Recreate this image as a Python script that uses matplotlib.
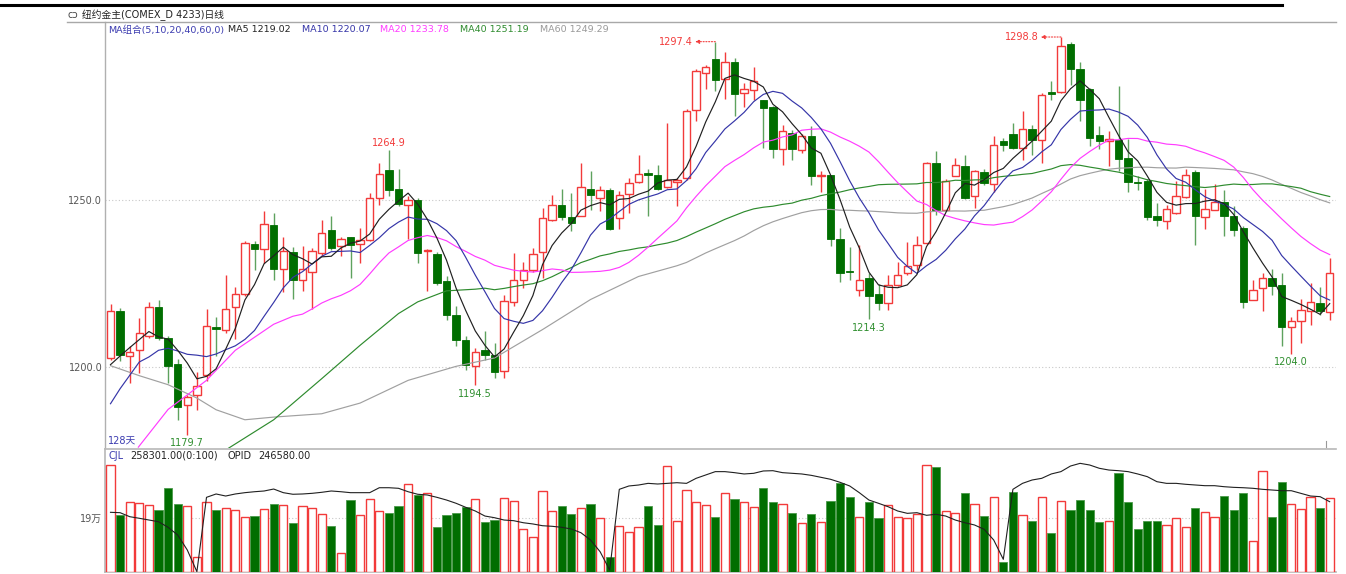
import numpy as np
import pandas as pd
import matplotlib
matplotlib.use("Agg")
import matplotlib.pyplot as plt
from matplotlib.lines import Line2D

plt.rcParams['font.family'] = ['DejaVu Sans', 'Noto Sans CJK SC']

# ---------------- data ----------------
opens = [1202.7,1216.7,1203.2,1205.0,1209.2,1217.9,1208.6,1200.9,1188.6,1191.5,
         1197.7,1212.0,1211.2,1218.0,1222.0,1236.8,1235.3,1242.6,1229.3,1234.3,
         1225.9,1228.3,1234.1,1240.9,1236.1,1238.9,1236.9,1238.1,1250.6,1258.9,
         1253.3,1248.4,1249.9,1234.6,1233.8,1225.6,1215.7,1208.0,1200.2,1205.0,
         1203.7,1198.7,1219.4,1226.1,1228.9,1234.3,1244.1,1248.4,1244.8,1245.3,
         1253.4,1250.6,1252.9,1244.6,1251.8,1255.4,1258.1,1257.6,1253.8,1255.3,
         1256.6,1276.8,1288.0,1292.2,1286.2,1291.3,1282.0,1282.8,1279.8,1277.7,
         1265.3,1270.1,1265.1,1269.3,1257.2,1257.4,1238.3,1228.6,1223.2,1226.6,
         1222.0,1219.2,1224.6,1228.1,1230.6,1237.1,1261.1,1247.1,1257.3,1260.3,
         1251.1,1258.3,1254.8,1267.6,1269.8,1265.6,1271.3,1267.9,1282.4,1282.3,
         1296.7,1289.2,1283.2,1269.6,1267.8,1268.1,1262.6,1255.5,1255.8,1245.3,
         1243.8,1246.1,1250.8,1258.3,1244.9,1247.1,1249.3,1245.1,1241.6,1220.2,
         1223.6,1226.6,1224.6,1212.0,1213.9,1216.7,1219.2,1216.4]
highs = [1219.0,1217.7,1206.2,1214.7,1219.4,1220.2,1209.4,1202.4,1191.5,1198.4,
         1217.4,1215.0,1227.6,1224.0,1237.6,1237.6,1246.6,1246.1,1238.9,1236.0,
         1236.1,1235.6,1243.9,1245.1,1238.9,1239.0,1241.5,1252.1,1261.1,1264.9,
         1259.3,1251.3,1250.6,1235.3,1234.3,1227.1,1218.4,1209.2,1205.7,1210.7,
         1207.2,1221.7,1234.1,1231.3,1235.6,1247.6,1251.4,1253.3,1252.1,1261.1,
         1258.6,1254.3,1253.6,1252.6,1256.6,1263.6,1259.3,1260.6,1273.1,1256.6,
         1277.2,1289.2,1290.5,1297.4,1294.2,1292.5,1285.0,1289.8,1280.0,1278.2,
         1272.6,1271.1,1269.9,1272.1,1258.6,1257.6,1241.6,1235.9,1236.6,1228.1,
         1225.0,1227.6,1231.3,1237.3,1239.1,1261.3,1264.6,1256.3,1262.6,1263.6,
         1259.1,1259.3,1269.1,1268.6,1273.1,1276.5,1272.5,1282.0,1285.5,1298.8,
         1297.3,1291.2,1283.5,1272.1,1270.8,1284.0,1268.3,1257.1,1256.3,1249.1,
         1248.6,1255.6,1259.3,1258.9,1253.3,1254.9,1252.9,1248.3,1242.1,1226.1,
         1228.1,1229.3,1228.0,1215.0,1220.4,1225.1,1223.9,1232.6]
lows = [1202.2,1201.7,1195.2,1198.2,1208.6,1208.2,1195.2,1184.2,1179.7,1187.2,
        1195.7,1203.2,1210.2,1208.4,1221.2,1229.1,1231.1,1226.1,1222.4,1220.4,
        1222.7,1217.4,1233.1,1235.1,1233.3,1226.6,1231.1,1237.6,1248.6,1251.1,
        1248.1,1238.3,1231.1,1222.7,1224.6,1214.2,1206.2,1199.0,1194.5,1202.2,
        1196.7,1196.7,1218.2,1223.6,1228.5,1226.6,1243.6,1244.1,1240.6,1245.1,
        1247.1,1246.6,1241.1,1241.3,1246.1,1255.1,1245.3,1253.1,1253.6,1248.1,
        1256.1,1273.6,1283.2,1282.5,1280.2,1275.2,1277.8,1279.8,1265.6,1262.6,
        1260.6,1261.9,1264.1,1254.6,1252.3,1236.3,1225.3,1225.9,1221.2,1214.3,
        1217.2,1217.0,1224.3,1227.6,1229.1,1236.9,1245.6,1246.6,1257.1,1250.3,
        1247.6,1254.6,1252.3,1264.6,1265.3,1262.1,1263.6,1261.1,1279.8,1282.0,
        1284.5,1273.6,1266.3,1265.3,1260.3,1258.6,1252.3,1253.1,1243.9,1242.3,
        1241.3,1245.9,1250.6,1236.6,1241.3,1246.9,1239.3,1239.3,1217.7,1220.0,
        1216.7,1221.7,1206.4,1204.0,1207.2,1212.7,1215.7,1214.2]
closes = [1216.7,1203.7,1204.6,1210.2,1217.9,1208.7,1200.2,1188.0,1191.0,1194.4,
          1212.4,1211.5,1217.4,1221.9,1237.1,1235.4,1242.8,1229.3,1234.8,1225.9,
          1229.3,1234.8,1240.1,1235.7,1238.3,1236.4,1238.1,1250.6,1257.8,1253.1,
          1248.9,1249.9,1234.1,1235.1,1225.1,1215.7,1208.0,1200.7,1204.4,1203.7,
          1198.4,1219.7,1226.1,1228.9,1233.9,1244.6,1248.4,1244.8,1243.1,1253.9,
          1251.4,1252.9,1241.3,1251.5,1255.1,1257.8,1257.6,1253.4,1255.9,1256.1,
          1276.5,1288.5,1289.8,1286.0,1291.2,1281.8,1283.2,1285.5,1277.5,1265.3,
          1270.6,1265.3,1269.3,1257.3,1257.5,1238.3,1228.1,1228.3,1226.1,1221.2,
          1219.2,1224.6,1227.6,1230.3,1236.6,1261.1,1247.1,1255.6,1260.4,1250.6,
          1258.6,1255.1,1266.4,1266.6,1265.6,1271.3,1268.1,1281.3,1281.7,1296.2,
          1289.2,1280.0,1268.6,1267.6,1268.3,1262.3,1255.3,1255.1,1244.9,1243.9,
          1247.3,1251.1,1257.4,1245.1,1247.4,1249.4,1245.3,1241.1,1219.4,1223.2,
          1226.6,1224.4,1211.9,1213.7,1217.0,1219.5,1216.7,1228.0]

# volume (unit: 万 contracts)
volumes = [37.3,19.8,24.5,23.9,23.4,21.5,29.2,23.7,23.1,5.1,
           24.3,21.5,22.2,21.5,19.1,19.5,22.0,23.7,23.4,17.0,
           22.9,22.2,20.1,16.1,6.5,25.1,19.8,25.3,21.3,20.7,
           22.9,30.6,26.8,27.4,15.6,19.8,20.5,22.8,25.3,17.3,
           18.1,25.9,24.8,14.9,12.3,28.1,21.4,23.1,20.1,22.2,
           23.7,18.9,5.1,16.0,13.9,15.6,23.1,16.4,37.1,17.8,
           28.5,24.5,23.4,19.2,27.5,25.3,24.3,22.5,29.2,24.5,
           23.7,20.7,17.0,20.1,17.5,24.9,31.1,26.3,19.2,24.3,
           18.9,23.4,19.2,18.7,20.1,37.2,36.7,21.4,20.7,27.4,
           23.7,19.5,26.0,3.6,27.9,19.8,17.9,26.3,13.7,24.9,
           21.6,25.1,21.6,17.4,17.7,34.4,24.3,14.9,17.9,17.7,
           16.4,18.7,15.6,22.3,20.8,19.3,26.5,21.6,27.4,10.8,
           35.3,19.1,31.5,23.7,21.9,26.0,22.3,25.83]

# open interest (thousand contracts)
opid = [232.0,231.5,226.0,223.8,221.4,219.1,211.4,200.8,180.2,150.4,
        252.6,257.2,254.4,257.2,259.0,260.3,261.3,264.0,259.0,256.8,
        257.2,258.1,259.5,261.3,260.3,259.0,259.0,259.0,265.8,265.8,
        265.0,260.3,256.8,255.8,252.6,248.9,244.4,238.9,233.8,226.9,
        224.6,221.4,220.5,217.7,216.0,213.6,212.8,211.4,209.1,204.0,
        194.0,177.9,152.7,263.6,268.2,269.5,271.8,270.9,271.8,272.7,
        271.8,278.7,283.3,287.9,287.9,286.5,284.7,285.6,288.8,289.2,
        286.5,285.6,284.7,282.8,280.1,277.4,273.2,268.2,259.0,248.9,
        244.4,239.7,233.8,230.6,231.5,227.9,229.3,226.9,221.4,217.7,
        214.6,208.7,194.0,167.4,263.6,271.8,276.4,278.7,284.7,287.9,
        295.6,299.3,297.0,292.5,290.1,289.2,287.9,284.7,281.0,274.1,
        271.8,271.8,270.5,269.5,268.6,268.6,267.2,266.3,265.8,265.0,
        263.6,262.7,261.7,261.7,258.1,254.4,253.5,246.58]

# moving-average values for days before the window is full
ma5_head_x = [1, 2, 3, 4]
ma5_head = [1200.7, 1203.3, 1205.8, 1208.2]
ma10_head_x = [1, 2, 3, 4, 5, 6, 7, 8, 9]
ma10_head = [1189.0, 1193.5, 1197.5, 1201.5, 1203.0, 1205.0, 1205.6, 1204.8, 1203.8]
ma20_head_x = [3.9, 7, 11, 14, 18]
ma20_head = [1176.0, 1187.3, 1196.0, 1205.0, 1212.8]
ma40_head_x = [13.3, 18, 23, 27, 31, 33, 36, 39]
ma40_head = [1175.7, 1184.2, 1196.5, 1206.5, 1216.0, 1219.5, 1222.8, 1223.3]
ma60_head_x = [1, 4, 7, 10, 12, 15, 18, 23, 27, 32, 37, 41, 46, 51, 56]
ma60_head = [1200.4, 1197.4, 1194.7, 1190.7, 1187.2, 1184.2, 1185.0, 1186.0,
             1189.2, 1196.0, 1200.2, 1202.7, 1211.2, 1220.2, 1227.1]

ma_legend = ["MA组合(5,10,20,40,60,0)", "MA5 1219.02", "MA10 1220.07",
             "MA20 1233.78", "MA40 1251.19", "MA60 1249.29"]
high_labels = [(64, "1297.4"), (100, "1298.8")]
peak_labels = [(30, "1264.9")]
low_labels = [(9, "1179.7"), (39, "1194.5"), (80, "1214.3"), (124, "1204.0")]

# ---------------- figure ----------------
W, H = 1346, 574
fig = plt.figure(figsize=(W / 100, H / 100), dpi=100)

def fx(x):
    return x / W

def fy(y):
    return 1 - y / H

L, R = 105, 1336
TOP, MID, VTOP, BOT = 22, 448, 449, 572
X0, DX = 110.5, 9.6   # pixel centre of first candle and spacing

axp = fig.add_axes([fx(L), fy(MID), fx(R) - fx(L), fy(TOP) - fy(MID)])
axv = fig.add_axes([fx(L), fy(BOT), fx(R) - fx(L), fy(VTOP) - fy(BOT)])

RED = '#f23a3a'
GREEN = '#006e00'
GWICK = '#5ea25e'

n = len(closes)
x = np.arange(1, n + 1)
o = np.array(opens); c = np.array(closes); h = np.array(highs); lo = np.array(lows)
up = c >= o

# wicks
for i in range(n):
    col = RED if up[i] else GWICK
    axp.vlines(x[i], lo[i], h[i], color=col, lw=1.0, zorder=2)

body_bot = np.minimum(o, c)
body_h = np.maximum(np.abs(c - o), 0.35)
axp.bar(x[up], body_h[up], bottom=body_bot[up], width=0.78,
        facecolor='white', edgecolor=RED, linewidth=1.0, zorder=3)
axp.bar(x[~up], body_h[~up], bottom=body_bot[~up], width=0.78,
        facecolor=GREEN, edgecolor=GREEN, linewidth=0.6, zorder=3)

# moving averages
cs = pd.Series(closes)

def ma_line(win, hx, hv):
    m = cs.rolling(win).mean().to_numpy()
    xs = list(hx) + list(x[win - 1:])
    ys = list(hv) + list(m[win - 1:])
    return xs, ys

for win, hx, hv, col in [(60, ma60_head_x, ma60_head, '#a0a0a0'),
                         (40, ma40_head_x, ma40_head, '#2e8b2e'),
                         (20, ma20_head_x, ma20_head, '#ff3cff'),
                         (10, ma10_head_x, ma10_head, '#3535a8'),
                         (5, ma5_head_x, ma5_head, '#202020')]:
    xs, ys = ma_line(win, hx, hv)
    axp.plot(xs, ys, color=col, lw=0.85, zorder=4)

xl = (1 - (X0 - L) / DX, 1 + (R - X0) / DX)
axp.set_xlim(*xl)
# 1250 at y=200 px, 1200 at y=367 px
ppu = (367 - 200) / 50.0
axp.set_ylim(1250 - (MID - 200) / ppu, 1250 + (200 - TOP) / ppu)
for yv in (1200, 1250):
    axp.axhline(yv, color='#c8c8c8', lw=0.8, ls=(0, (1, 2)), zorder=1)

# annotations
for ci, txt in high_labels:
    hv = highs[ci - 1]
    axp.annotate('', xy=(ci - 2.1, hv), xytext=(ci, hv),
                 arrowprops=dict(arrowstyle='-|>', color=RED, lw=0.8,
                                 ls=(0, (1, 1.5)), mutation_scale=6,
                                 shrinkA=0, shrinkB=0), zorder=6)
    axp.text(ci - 2.3, hv, txt, color=RED, fontsize=7.0, ha='right', va='center')
for ci, txt in peak_labels:
    axp.text(ci, highs[ci - 1] + 0.8, txt, color=RED, fontsize=7.0,
             ha='center', va='bottom')
for ci, txt in low_labels:
    axp.text(ci, lows[ci - 1] - 1.0, txt, color='#2f8f2f', fontsize=7.0,
             ha='center', va='top')

axp.set_yticks([1200, 1250])
axp.set_yticklabels(['1200.0', '1250.0'])
axp.set_xticks([])
axp.tick_params(axis='y', length=0, labelsize=7, labelcolor='#555555', pad=2)
for s in ('right', 'bottom', 'top'):
    axp.spines[s].set_visible(False)
axp.spines['left'].set_color('#b0b0b0')
axp.spines['left'].set_linewidth(1.0)

# ---------------- volume panel ----------------
v = np.array(volumes)
axv.bar(x[up], v[up], width=0.86, facecolor='white', edgecolor=RED,
        linewidth=1.0, zorder=3)
axv.bar(x[~up], v[~up], width=0.86, facecolor=GREEN, edgecolor='#4a9a4a',
        linewidth=0.6, zorder=3)
axv.axhline(19, color='#c8c8c8', lw=0.8, ls=(0, (1, 2)), zorder=1)
axv.set_xlim(*xl)
vpx = 54.5 / 19.0   # pixels per 万
axv.set_ylim(0, (BOT - VTOP) / vpx)
axv.set_yticks([19])
axv.set_yticklabels(['19万'])
axv.set_xticks([])
axv.tick_params(axis='y', length=0, labelsize=7, labelcolor='#555555', pad=2)
axv.spines['right'].set_visible(False)
for s in ('left', 'top', 'bottom'):
    axv.spines[s].set_color('#b8b8b8')
    axv.spines[s].set_linewidth(1.2)

axo = axv.twinx()
axo.plot(x, opid, color='#202020', lw=0.8, zorder=5)
axo.set_xlim(*xl)
axo.set_ylim(150, 150 + (BOT - VTOP) * 1.374)
axo.set_yticks([])
for s in axo.spines.values():
    s.set_visible(False)

# ---------------- frame lines & texts ----------------
fig.add_artist(Line2D([0, fx(1282)], [fy(5), fy(5)], color='black', lw=2.2))
fig.add_artist(Line2D([fx(67), fx(R)], [fy(TOP), fy(TOP)], color='#a8a8a8', lw=1.0))
fig.add_artist(Line2D([fx(R - 10), fx(R - 10)], [fy(441), fy(447)], color='#999999', lw=0.8))

fig.text(fx(67), fy(15), 'cɔ', fontsize=7, color='#444444', va='center')
fig.text(fx(82), fy(15), '纽约金主(COMEX_D 4233)日线', fontsize=7.0,
         color='#222222', va='center')

leg_x = [108, 228, 302, 380, 460, 540]
leg_c = ['#3c3cb0', '#222222', '#3535a8', '#ff3cff', '#2e8b2e', '#999999']
for t, xx, cc in zip(ma_legend, leg_x, leg_c):
    fig.text(fx(xx), fy(30), t, fontsize=6.8, color=cc, va='center')

fig.text(fx(108), fy(441), '128天', fontsize=7.0, color='#3c3cb0', va='center')

fig.text(fx(108), fy(456), 'CJL', fontsize=7.0, color='#3c3cb0', va='center')
fig.text(fx(130), fy(456), '258301.00(0:100)', fontsize=7.0, color='#222222', va='center')
fig.text(fx(228), fy(456), 'OPID', fontsize=7.0, color='#222222', va='center')
fig.text(fx(258), fy(456), '246580.00', fontsize=7.0, color='#222222', va='center')

fig.savefig('out.png', dpi=100, facecolor='white')
